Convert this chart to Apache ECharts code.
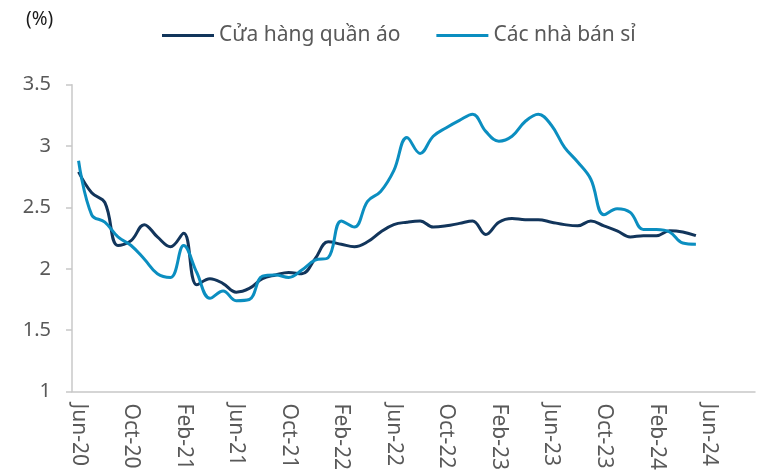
<!DOCTYPE html>
<html>
<head>
<meta charset="utf-8">
<script src="https://cdn.jsdelivr.net/npm/echarts@6/dist/echarts.min.js"></script>
<style>
html,body{margin:0;padding:0;background:#fff;}
#chart{width:775px;height:473px;}
</style>
</head>
<body>
<div id="chart"></div>
<script>
// Categories: monthly, Jun-20 .. Sep-24 (axis extends past the data)
const months = ['Jan','Feb','Mar','Apr','May','Jun','Jul','Aug','Sep','Oct','Nov','Dec'];
const categories = [];
for (let k = 0; k < 52; k++) {
  const m = (5 + k) % 12;
  const y = 20 + Math.floor((5 + k) / 12);
  categories.push(months[m] + '-' + y);
}

const seriesNames = ['Cửa hàng quần áo', 'Các nhà bán sỉ'];

// Apparel stores (dark)
const apparelStores = [
  2.79, 2.62, 2.54, 2.19, 2.23, 2.36, 2.26, 2.18, 2.29, 1.87,
  1.92, 1.88, 1.81, 1.84, 1.92, 1.95, 1.97, 1.96, 2.08, 2.22,
  2.20, 2.18, 2.22, 2.30, 2.36, 2.38, 2.39, 2.34, 2.35, 2.37,
  2.39, 2.28, 2.38, 2.41, 2.40, 2.40, 2.38, 2.36, 2.35, 2.39,
  2.35, 2.31, 2.26, 2.27, 2.27, 2.31, 2.30, 2.27
];

// Wholesalers (light)
const wholesalers = [
  2.88, 2.44, 2.38, 2.26, 2.19, 2.08, 1.96, 1.93, 2.19, 1.97,
  1.76, 1.82, 1.74, 1.75, 1.94, 1.95, 1.93, 1.99, 2.07, 2.09,
  2.39, 2.34, 2.55, 2.63, 2.80, 3.07, 2.94, 3.08, 3.15, 3.21,
  3.26, 3.12, 3.04, 3.08, 3.20, 3.26, 3.17, 2.99, 2.87, 2.73,
  2.44, 2.49, 2.46, 2.32, 2.32, 2.30, 2.21, 2.20
];

const yTicks = { min: 1, max: 3.5, step: 0.5 };

const chart = echarts.init(document.getElementById('chart'), null, {renderer: 'canvas'});
const FONT = '"Noto Sans", "Open Sans", sans-serif';
chart.setOption({
  animation: false,
  title: {
    text: '(%)',
    left: 21, top: 5,
    textStyle: {fontFamily: FONT, fontSize: 19, fontWeight: 'normal', color: '#1a1a1a'}
  },
  legend: {
    data: seriesNames,
    left: 157, top: 20,
    icon: 'rect',
    itemWidth: 52, itemHeight: 3,
    itemGap: 36,
    textStyle: {fontFamily: FONT, fontSize: 21, color: '#595959'}
  },
  grid: {left: 72, right: 20, top: 84.7, bottom: 79.7, containLabel: false},
  xAxis: {
    type: 'category',
    data: categories,
    boundaryGap: true,
    axisLine: {lineStyle: {color: '#c8c8c8', width: 1.5}},
    axisTick: {interval: 3, length: 7, lineStyle: {color: '#c8c8c8', width: 1.5}},
    axisLabel: {
      interval: 3, rotate: -90, margin: 12,
      fontFamily: FONT, fontSize: 21, color: '#595959'
    },
    splitLine: {show: false}
  },
  yAxis: {
    type: 'value',
    min: yTicks.min, max: yTicks.max, interval: yTicks.step,
    axisLine: {show: true, lineStyle: {color: '#c8c8c8', width: 1.5}},
    axisTick: {show: true, length: 6, lineStyle: {color: '#c8c8c8', width: 1.5}},
    axisLabel: {margin: 21, fontFamily: FONT, fontSize: 20, color: '#595959'},
    splitLine: {show: false}
  },
  series: [
    {
      name: seriesNames[0], type: 'line', data: apparelStores,
      smooth: 0.4, showSymbol: false, symbol: 'none',
      lineStyle: {width: 3, color: '#12355b'},
      itemStyle: {color: '#12355b'}
    },
    {
      name: seriesNames[1], type: 'line', data: wholesalers,
      smooth: 0.4, showSymbol: false, symbol: 'none',
      lineStyle: {width: 3, color: '#0b8ec0'},
      itemStyle: {color: '#0b8ec0'}
    }
  ]
});
</script>
</body>
</html>
